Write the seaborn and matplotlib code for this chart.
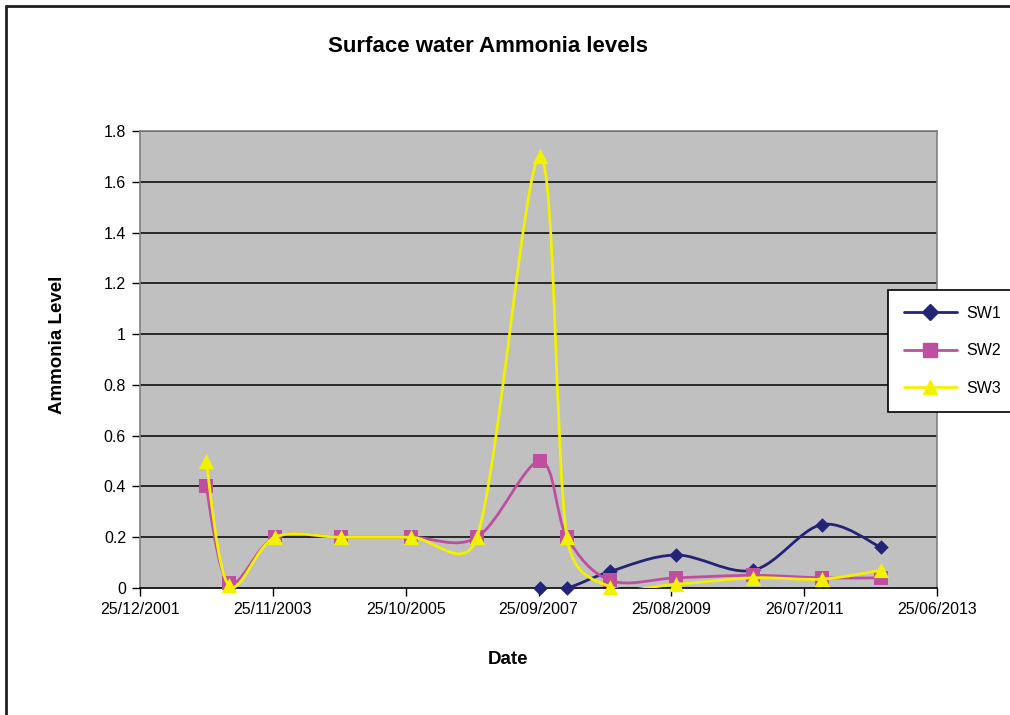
import numpy as np
import pandas as pd
import matplotlib
matplotlib.use("Agg")
import matplotlib.pyplot as plt
import matplotlib.dates as mdates
from matplotlib.path import Path
from matplotlib.patches import PathPatch
from matplotlib.lines import Line2D
import seaborn as sns

# sample dates (dd/mm/yyyy) and readings
sample_dates = ["08/12/2002", "07/04/2003", "05/12/2003", "18/11/2004", "22/11/2005",
                "05/11/2006", "03/10/2007", "22/02/2008", "06/10/2008", "20/09/2009",
                "30/10/2010", "28/10/2011", "03/09/2012"]
sw1 = [np.nan, np.nan, np.nan, np.nan, np.nan, np.nan, 0.0, 0.0, 0.065, 0.13, 0.07, 0.25, 0.16]
sw2 = [0.4, 0.02, 0.2, 0.2, 0.2, 0.2, 0.5, 0.2, 0.03, 0.04, 0.05, 0.04, 0.04]
sw3 = [0.5, 0.01, 0.2, 0.2, 0.2, 0.2, 1.7, 0.2, 0.005, 0.015, 0.04, 0.035, 0.07]

tick_labels = ["25/12/2001", "25/11/2003", "25/10/2005", "25/09/2007",
               "25/08/2009", "26/07/2011", "25/06/2013"]
y_ticks = [0, 0.2, 0.4, 0.6, 0.8, 1, 1.2, 1.4, 1.6, 1.8]

series = {"SW1": sw1, "SW2": sw2, "SW3": sw3}
colors = {"SW1": "#232378", "SW2": "#BE4FA0", "SW3": "#F2F200"}
markers = {"SW1": "D", "SW2": "s", "SW3": "^"}
msizes = {"SW1": 55, "SW2": 110, "SW3": 120}

df = pd.DataFrame({"Date": pd.to_datetime(sample_dates, dayfirst=True), **series})
long = df.melt(id_vars="Date", var_name="Site", value_name="Ammonia").dropna()

# plot area size in pixels, used to do the smoothing in screen space
AX_W, AX_H = 797, 457


def smooth_path(x, y, xspan, yspan, limit=0.6):
    # excel-style smoothed line: cubic bezier through the points,
    # control arms capped relative to the segment length
    sx, sy = AX_W / xspan, AX_H / yspan
    pts = np.column_stack([x * sx, y * sy])
    n = len(pts)
    verts = [pts[0]]
    codes = [Path.MOVETO]
    for i in range(n - 1):
        p0 = pts[max(i - 1, 0)]
        p1 = pts[i]
        p2 = pts[i + 1]
        p3 = pts[min(i + 2, n - 1)]
        seg = np.hypot(*(p2 - p1))
        a = (p2 - p0) / 6
        b = (p3 - p1) / 6
        for v in (a, b):
            L = np.hypot(*v)
            if L > limit * seg:
                v *= limit * seg / L
        verts += [p1 + a, p2 - b, p2]
        codes += [Path.CURVE4] * 3
    verts = np.array(verts) / [sx, sy]
    return Path(verts, codes)


sns.set_style("white")
plt.rcParams["font.family"] = ["Liberation Sans", "DejaVu Sans"]
plt.rcParams.update({"text.color": "black", "xtick.color": "black",
                     "ytick.color": "black", "axes.labelcolor": "black"})

fig = plt.figure(figsize=(10.1, 7.15), dpi=100)
ax = fig.add_axes([140 / 1010, 1 - 588 / 715, AX_W / 1010, AX_H / 715])
ax.set_facecolor("#C0C0C0")

for y in y_ticks[1:]:
    ax.axhline(y, color="black", lw=1.1, zorder=1)

tick_dates = pd.to_datetime(tick_labels, dayfirst=True)
xlo, xhi = mdates.date2num(tick_dates[0]), mdates.date2num(tick_dates[-1])

for k, site in enumerate(series):
    sub = long[long["Site"] == site]
    xs = mdates.date2num(sub["Date"])
    patch = PathPatch(smooth_path(xs, sub["Ammonia"].values, xhi - xlo, 1.8),
                      facecolor="none", edgecolor=colors[site], lw=2, zorder=3 + k)
    ax.add_patch(patch)
    sns.scatterplot(data=sub, x="Date", y="Ammonia", marker=markers[site], s=msizes[site],
                    color=colors[site], edgecolor=colors[site], linewidth=0, ax=ax,
                    zorder=3.5 + k, clip_on=False, legend=False)

ax.set_xlim(tick_dates[0], tick_dates[-1])
ax.set_ylim(0, 1.8)
ax.set_xticks(tick_dates)
ax.set_xticklabels(tick_labels, fontsize=11.5)
ax.set_yticks(y_ticks)
ax.set_yticklabels([f"{v:g}" for v in y_ticks], fontsize=11.5)
ax.tick_params(axis="both", direction="out", length=6, width=1, color="black",
               labelcolor="black", bottom=True, left=True, pad=4)

for side in ["left", "top", "right"]:
    ax.spines[side].set_color("#808080")
    ax.spines[side].set_linewidth(1.2)
ax.spines["bottom"].set_color("black")
ax.spines["bottom"].set_linewidth(1.2)

ax.set_xlabel("")
ax.set_ylabel("")
fig.text(57 / 1010, 1 - 345 / 715, "Ammonia Level", rotation=90, ha="center", va="center",
         fontsize=13.5, fontweight="bold")
fig.text(508 / 1010, 1 - 660 / 715, "Date", ha="center", va="center",
         fontsize=13.5, fontweight="bold")
fig.text(488 / 1010, 1 - 47 / 715, "Surface water Ammonia levels", ha="center", va="center",
         fontsize=16, fontweight="bold")

handles = [Line2D([0], [0], color=colors[s], lw=2, marker=markers[s],
                  markersize=8 if s == "SW1" else 10, markerfacecolor=colors[s],
                  markeredgecolor=colors[s]) for s in series]
leg = fig.legend(handles, list(series), loc="upper left",
                 bbox_to_anchor=(888 / 1010, 1 - 290 / 715), bbox_transform=fig.transFigure,
                 borderaxespad=0, frameon=True, fancybox=False, fontsize=11.5,
                 handlelength=3.3, labelspacing=1.4, borderpad=1.0, handletextpad=0.6)
leg.get_frame().set_edgecolor("black")
leg.get_frame().set_facecolor("white")
leg.get_frame().set_alpha(1)
leg.get_frame().set_linewidth(1.2)

# outer chart border (left and top edges are visible)
fig.add_artist(Line2D([6 / 1010, 6 / 1010], [0, 1 - 6 / 715], color="#231F20", lw=2,
                      transform=fig.transFigure))
fig.add_artist(Line2D([6 / 1010, 1], [1 - 6 / 715, 1 - 6 / 715], color="#231F20", lw=2,
                      transform=fig.transFigure))

fig.savefig("out.png", dpi=100)
